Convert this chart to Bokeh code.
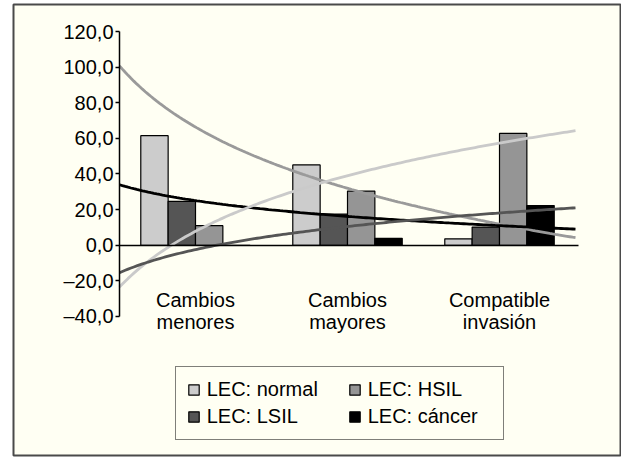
import numpy as np
from bokeh.plotting import figure
from bokeh.models import Range1d, LinearAxis, FixedTicker, Legend, LegendItem
from bokeh.embed import file_html
from bokeh.resources import INLINE

# ---- data ----
categories = ["Cambios\nmenores", "Cambios\nmayores", "Compatible\ninvasión"]
series_names = ["LEC: normal", "LEC: LSIL", "LEC: HSIL", "LEC: cáncer"]
normal = [61.5, 45.1, 3.6]
lsil = [24.6, 17.5, 10.2]
hsil = [11.0, 30.4, 62.8]
cancer = [0.0, 3.9, 22.3]
y_ticks = [-40, -20, 0, 20, 40, 60, 80, 100, 120]
y_tick_labels = ["–40,0", "–20,0", "0,0", "20,0", "40,0", "60,0", "80,0", "100,0", "120,0"]

series = [normal, lsil, hsil, cancer]
bar_colors = ["#cccccc", "#555555", "#959595", "#000000"]
trend_colors = ["#9a9a9a", "#000000", "#cacaca", "#555555"]
offsets = [-0.27, -0.09, 0.09, 0.27]
cream = "#fffff3"
FONT = "Liberation Sans"

p = figure(width=621, height=458, output_backend="svg", toolbar_location=None,
           x_axis_type=None, y_axis_type=None,
           x_range=Range1d(-0.6974, 3.3026), y_range=Range1d(-118.04, 135.16),
           min_border_left=13, min_border_right=0, min_border_top=4, min_border_bottom=3)
p.background_fill_color = cream
p.border_fill_color = "white"
p.outline_line_color = "#4a4a4a"
p.outline_line_width = 2

idx = np.arange(len(categories)) + 0.5
renderers = []
for vals, col, off in zip(series, bar_colors, offsets):
    r = p.vbar(x=idx + off, top=vals, bottom=0, width=0.18,
               fill_color=col, line_color="black", line_width=1.2)
    renderers.append(r)

# logarithmic trend lines (as in the spreadsheet chart)
pos = np.arange(1, len(categories) + 1)
t = np.linspace(0.5, len(categories) + 0.5, 160)
for vals, col in zip(series, trend_colors):
    a, b = np.polyfit(np.log(pos), vals, 1)
    p.line(t - 0.5, a * np.log(t) + b, line_color=col, line_width=2.8)

# y axis at category-axis origin
yax = LinearAxis(fixed_location=0, bounds=(-40, 120),
                 ticker=FixedTicker(ticks=y_ticks),
                 major_label_overrides={v: s for v, s in zip(y_ticks, y_tick_labels)})
yax.axis_line_width = 1.5
yax.axis_line_color = "black"
yax.major_tick_out = 4
yax.major_tick_in = 0
yax.major_tick_line_width = 1.5
yax.minor_tick_out = 0
yax.minor_tick_in = 0
yax.major_label_standoff = 2
yax.major_label_text_font = FONT
yax.major_label_text_font_size = "20px"
yax.major_label_text_color = "black"
p.add_layout(yax, "left")

# x axis at zero
xax = LinearAxis(fixed_location=0, bounds=(0, 3.02),
                 ticker=FixedTicker(ticks=list(idx)),
                 major_label_overrides={float(v): s for v, s in zip(idx, categories)})
xax.axis_line_width = 1.5
xax.axis_line_color = "black"
xax.major_tick_out = 0
xax.major_tick_in = 0
xax.minor_tick_out = 0
xax.minor_tick_in = 0
xax.major_label_standoff = 44
xax.major_label_text_font = FONT
xax.major_label_text_font_size = "20px"
xax.major_label_text_color = "black"
xax.major_label_text_line_height = 1.0
p.add_layout(xax, "below")

common = dict(padding=11, spacing=4, margin=0, glyph_width=13, glyph_height=13,
              label_standoff=7, label_height=23,
              label_text_font=FONT, label_text_font_size="20px",
              label_text_color="black", orientation="vertical")

legA = Legend(items=[LegendItem(label=series_names[0], renderers=[renderers[0]]),
                     LegendItem(label=series_names[1], renderers=[renderers[1]])],
              location=(161.7, 14.7), label_width=285,
              border_line_color="black", border_line_width=1.5,
              background_fill_color=cream, background_fill_alpha=1.0, **common)
legB = Legend(items=[LegendItem(label=series_names[2], renderers=[renderers[2]]),
                     LegendItem(label=series_names[3], renderers=[renderers[3]])],
              location=(334.7, 26.7), border_line_color=None,
              background_fill_alpha=0.0, **common)
p.add_layout(legA, "center")
p.add_layout(legB, "center")

open("out.html", "w").write(file_html(p, INLINE))
